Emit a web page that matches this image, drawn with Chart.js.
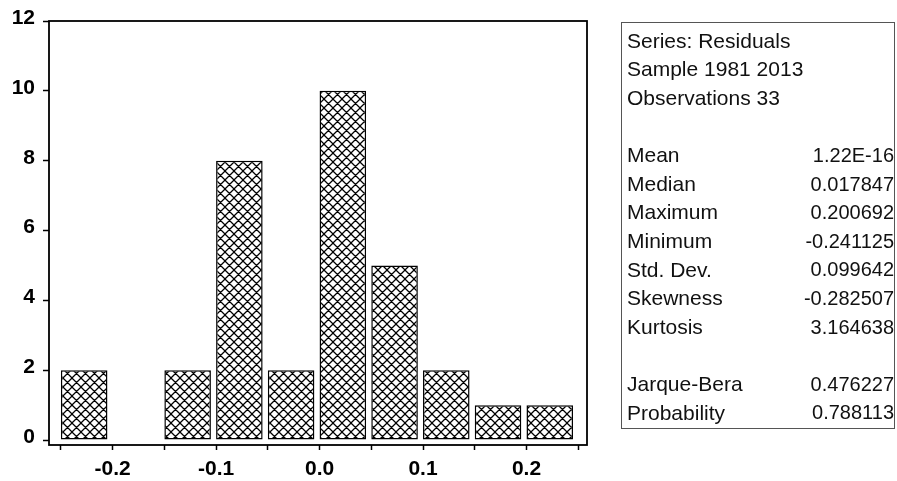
<!DOCTYPE html>
<html>
<head>
<meta charset="utf-8">
<title>Residuals histogram</title>
<script src="https://cdn.jsdelivr.net/npm/chart.js@4.4.1/dist/chart.umd.min.js"></script>
<style>
  html, body { margin: 0; padding: 0; background: #fff; }
  #hist { display: block; }
</style>
</head>
<body>
<canvas id="hist" width="897" height="481"></canvas>
<script>
// Histogram bins (lower edge) and counts
const binStarts = [-0.25, -0.20, -0.15, -0.10, -0.05, 0.00, 0.05, 0.10, 0.15, 0.20];
const binWidth = 0.05;
const counts = [2, 0, 2, 8, 2, 10, 5, 2, 1, 1];

// Axis ticks
const xTicks = [-0.25, -0.20, -0.15, -0.10, -0.05, 0.00, 0.05, 0.10, 0.15, 0.20, 0.25];
const xLabelled = [-0.2, -0.1, 0.0, 0.1, 0.2];
const yTicks = [0, 2, 4, 6, 8, 10, 12];

// Descriptive statistics table
const headerLines = ['Series: Residuals', 'Sample 1981 2013', 'Observations 33'];
const statNames = ['Mean', 'Median', 'Maximum', 'Minimum', 'Std. Dev.', 'Skewness', 'Kurtosis'];
const statValues = ['1.22E-16', '0.017847', '0.200692', '-0.241125', '0.099642', '-0.282507', '3.164638'];
const testNames = ['Jarque-Bera', 'Probability'];
const testValues = ['0.476227', '0.788113'];

const FONT = '"Liberation Sans", Arial, sans-serif';
const barFill = 0.9; // share of the bin covered by the bar, bar starts at the bin edge

// cross-hatch fill for the bars
function makeHatch() {
    const size = 9;
    const c = document.createElement('canvas');
    c.width = size;
    c.height = size;
    const g = c.getContext('2d');
    g.fillStyle = '#fff';
    g.fillRect(0, 0, size, size);
    g.strokeStyle = '#000';
    g.lineWidth = 1.25;
    g.beginPath();
    for (const o of [-size, 0, size]) {
        g.moveTo(o - 1, -1);
        g.lineTo(o + size + 1, size + 1);
        g.moveTo(o - 1, size + 1);
        g.lineTo(o + size + 1, -1);
    }
    g.stroke();
    return g.createPattern(c, 'repeat');
}

// box round the plot area
const frame = {
    id: 'frame',
    afterDraw(chart) {
        const { ctx, chartArea: a } = chart;
        ctx.save();
        ctx.strokeStyle = '#000';
        ctx.lineWidth = 1.8;
        ctx.strokeRect(a.left, a.top, a.right - a.left, a.bottom - a.top);
        ctx.restore();
    }
};

// statistics panel to the right of the histogram
const statsBox = {
    id: 'statsBox',
    afterDraw(chart) {
        const ctx = chart.ctx;
        const left = 621.5, top = 22.5, width = 273, height = 406;
        const textX = 627, valueX = 894;
        const firstY = 42, step = 28.6;
        ctx.save();
        ctx.strokeStyle = '#555';
        ctx.lineWidth = 1;
        ctx.strokeRect(left, top, width, height);
        ctx.fillStyle = '#111';
        ctx.textBaseline = 'middle';

        const rows = [];
        headerLines.forEach(t => rows.push([t, '']));
        rows.push(null);
        statNames.forEach((t, i) => rows.push([t, statValues[i]]));
        rows.push(null);
        testNames.forEach((t, i) => rows.push([t, testValues[i]]));

        rows.forEach((r, i) => {
            if (!r) return;
            const y = firstY + i * step;
            ctx.font = '21px ' + FONT;
            ctx.textAlign = 'left';
            ctx.fillText(r[0], textX, y);
            if (r[1]) {
                ctx.font = '20px ' + FONT;
                ctx.textAlign = 'right';
                ctx.fillText(r[1], valueX, y);
            }
        });
        ctx.restore();
    }
};

const data = binStarts.map((lo, i) => ({ x: lo + binWidth * barFill / 2, y: counts[i] }));

new Chart(document.getElementById('hist'), {
    type: 'bar',
    data: {
        datasets: [{
            data: data,
            backgroundColor: makeHatch(),
            borderColor: '#000',
            borderWidth: c => (c.raw && c.raw.y > 0 ? 1.5 : 0),
            borderSkipped: false,
            barPercentage: barFill,
            categoryPercentage: 1
        }]
    },
    options: {
        responsive: false,
        animation: false,
        devicePixelRatio: 1,
        layout: { padding: { left: 0, right: 310, top: 21, bottom: 0 } },
        plugins: {
            legend: { display: false },
            tooltip: { enabled: false }
        },
        scales: {
            x: {
                type: 'linear',
                offset: false,
                min: -0.2615,
                max: 0.2585,
                afterBuildTicks: s => { s.ticks = xTicks.map(v => ({ value: v })); },
                afterFit: s => { s.height = 36; },
                border: { display: false },
                grid: {
                    drawOnChartArea: false,
                    drawTicks: true,
                    tickLength: 5,
                    tickWidth: 1.5,
                    tickColor: '#000',
                    offset: false
                },
                ticks: {
                    autoSkip: false,
                    maxRotation: 0,
                    padding: 7,
                    color: '#000',
                    font: { family: FONT, size: 21, weight: 'bold' },
                    callback: v => (xLabelled.some(t => Math.abs(t - v) < 1e-9) ? v.toFixed(1) : '')
                }
            },
            y: {
                min: -0.14,
                max: 12,
                afterBuildTicks: s => { s.ticks = yTicks.map(v => ({ value: v })); },
                afterFit: s => { s.width = 49; },
                border: { display: false },
                grid: {
                    drawOnChartArea: false,
                    drawTicks: true,
                    tickLength: 6,
                    tickWidth: 1.5,
                    tickColor: '#000'
                },
                ticks: {
                    padding: 8,
                    labelOffset: -3,
                    color: '#000',
                    font: { family: FONT, size: 21, weight: 'bold' },
                    callback: v => String(v)
                }
            }
        }
    },
    plugins: [frame, statsBox]
});
</script>
</body>
</html>
